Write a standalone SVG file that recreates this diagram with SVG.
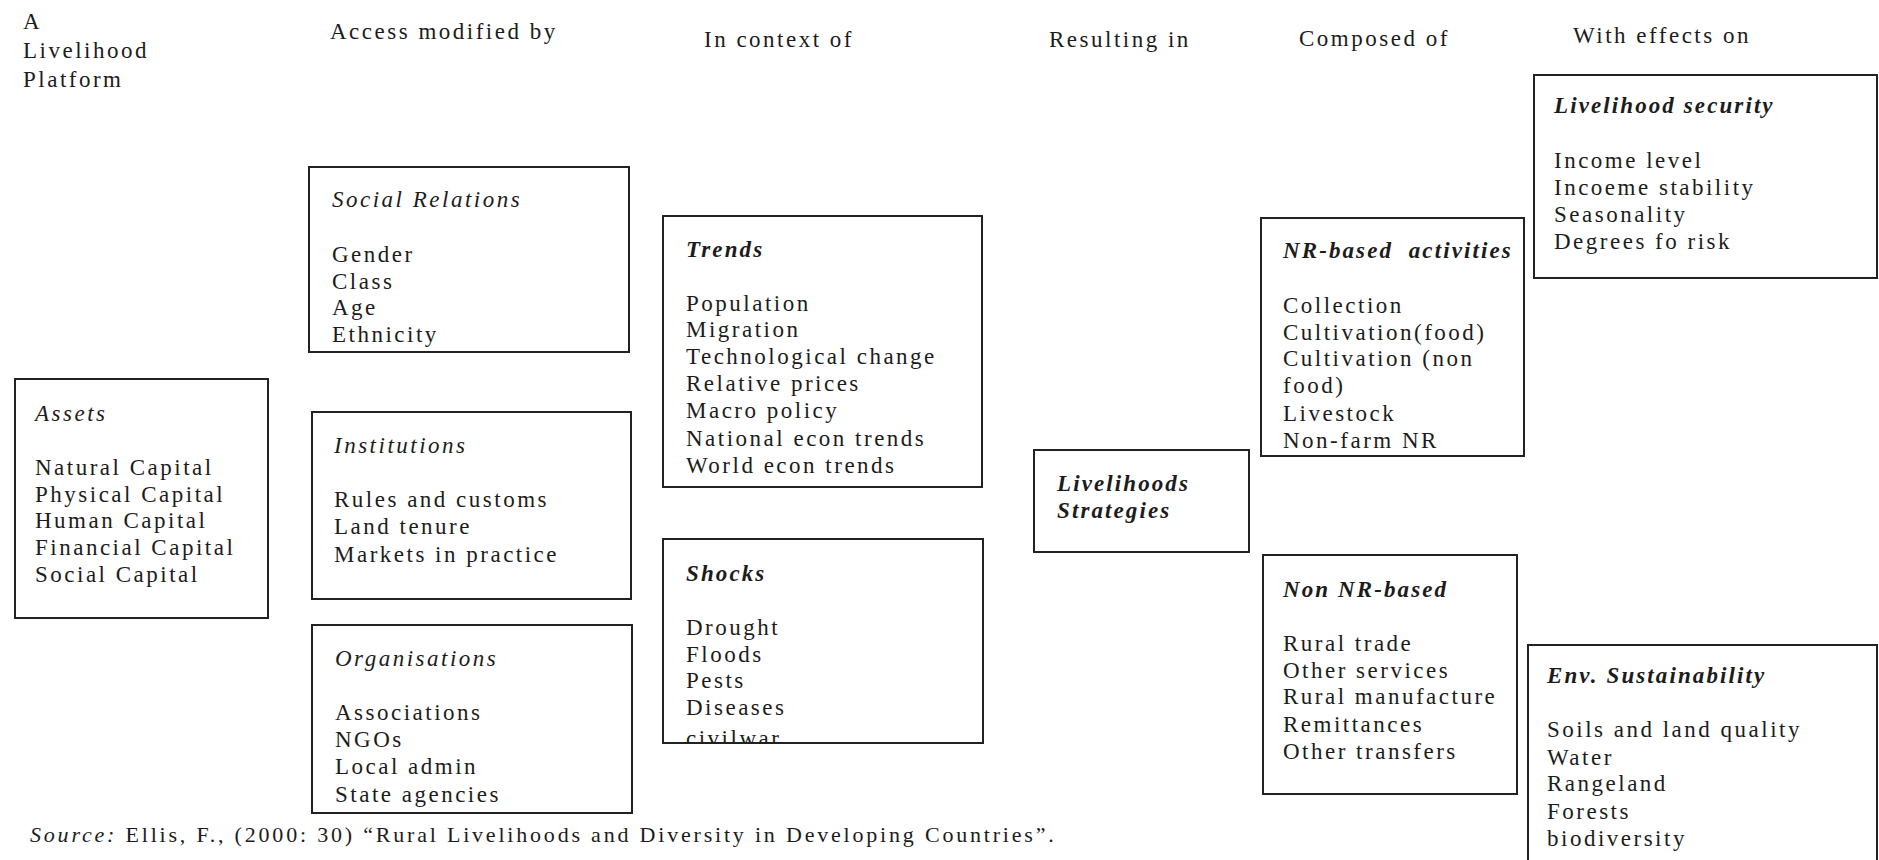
<svg xmlns="http://www.w3.org/2000/svg" width="1879" height="860" viewBox="0 0 1879 860">
<style>
  text { font-family: "Liberation Serif", "Times New Roman", serif; font-size: 23px; letter-spacing: 2.5px; fill: #1c1c1c; white-space: pre; }
  .t { font-style: italic; }
  .tb { font-style: italic; font-weight: bold; letter-spacing: 2.1px; }
  .box { fill: #fff; stroke: #222; stroke-width: 2; }
  .src { font-size: 22px; letter-spacing: 2.8px; }
</style>
<defs>
  <clipPath id="shockClip"><rect x="663" y="539" width="320" height="204"/></clipPath>
</defs>
<rect width="1879" height="860" fill="#fff"/>

<g id="headers">
  <text x="23" y="29">A</text>
  <text x="23" y="58">Livelihood</text>
  <text x="23" y="87">Platform</text>
  <text x="330" y="39">Access modified by</text>
  <text x="704" y="47">In context of</text>
  <text x="1049" y="47">Resulting in</text>
  <text x="1299" y="46">Composed of</text>
  <text x="1573" y="43">With effects on</text>
</g>

<g id="connectors"/>

<g id="assets">
  <rect class="box" x="15" y="379" width="253" height="239"/>
  <text class="t" x="35" y="421">Assets</text>
  <text x="35" y="475">Natural Capital</text>
  <text x="35" y="502">Physical Capital</text>
  <text x="35" y="528">Human Capital</text>
  <text x="35" y="555">Financial Capital</text>
  <text x="35" y="582">Social Capital</text>
</g>

<g id="social-relations">
  <rect class="box" x="309" y="167" width="320" height="185"/>
  <text class="t" x="332" y="207">Social Relations</text>
  <text x="332" y="262">Gender</text>
  <text x="332" y="289">Class</text>
  <text x="332" y="315">Age</text>
  <text x="332" y="342">Ethnicity</text>
</g>

<g id="institutions">
  <rect class="box" x="312" y="412" width="319" height="187"/>
  <text class="t" x="334" y="453">Institutions</text>
  <text x="334" y="507">Rules and customs</text>
  <text x="334" y="534">Land tenure</text>
  <text x="334" y="562">Markets in practice</text>
</g>

<g id="organisations">
  <rect class="box" x="312" y="625" width="320" height="188"/>
  <text class="t" x="335" y="666">Organisations</text>
  <text x="335" y="720">Associations</text>
  <text x="335" y="747">NGOs</text>
  <text x="335" y="774">Local admin</text>
  <text x="335" y="802">State agencies</text>
</g>

<g id="trends">
  <rect class="box" x="663" y="216" width="319" height="271"/>
  <text class="tb" x="686" y="257">Trends</text>
  <text x="686" y="311">Population</text>
  <text x="686" y="337">Migration</text>
  <text x="686" y="364">Technological change</text>
  <text x="686" y="391">Relative prices</text>
  <text x="686" y="418">Macro policy</text>
  <text x="686" y="446">National econ trends</text>
  <text x="686" y="473">World econ trends</text>
</g>

<g id="shocks">
  <rect class="box" x="663" y="539" width="320" height="204"/>
  <text class="tb" x="686" y="581">Shocks</text>
  <text x="686" y="635">Drought</text>
  <text x="686" y="662">Floods</text>
  <text x="686" y="688">Pests</text>
  <text x="686" y="715">Diseases</text>
  <text x="686" y="746" clip-path="url(#shockClip)">civilwar</text>
</g>

<g id="livelihood-strategies">
  <rect class="box" x="1034" y="450" width="215" height="102"/>
  <text class="tb" x="1057" y="491">Livelihoods</text>
  <text class="tb" x="1057" y="518">Strategies</text>
</g>

<g id="nr-based">
  <rect class="box" x="1261" y="218" width="263" height="238"/>
  <text class="tb" x="1283" y="258">NR-based  activities</text>
  <text x="1283" y="313">Collection</text>
  <text x="1283" y="340">Cultivation(food)</text>
  <text x="1283" y="366">Cultivation (non</text>
  <text x="1283" y="393">food)</text>
  <text x="1283" y="421">Livestock</text>
  <text x="1283" y="448">Non-farm NR</text>
</g>

<g id="non-nr-based">
  <rect class="box" x="1263" y="555" width="254" height="239"/>
  <text class="tb" x="1283" y="597">Non NR-based</text>
  <text x="1283" y="651">Rural trade</text>
  <text x="1283" y="678">Other services</text>
  <text x="1283" y="704">Rural manufacture</text>
  <text x="1283" y="732">Remittances</text>
  <text x="1283" y="759">Other transfers</text>
</g>

<g id="livelihood-security">
  <rect class="box" x="1534" y="75" width="343" height="203"/>
  <text class="tb" x="1554" y="113">Livelihood security</text>
  <text x="1554" y="168">Income level</text>
  <text x="1554" y="195">Incoeme stability</text>
  <text x="1554" y="222">Seasonality</text>
  <text x="1554" y="249">Degrees fo risk</text>
</g>

<g id="env-sustainability">
  <rect class="box" x="1528" y="645" width="349" height="240"/>
  <text class="tb" x="1547" y="683">Env. Sustainability</text>
  <text x="1547" y="737">Soils and land quality</text>
  <text x="1547" y="765">Water</text>
  <text x="1547" y="791">Rangeland</text>
  <text x="1547" y="819">Forests</text>
  <text x="1547" y="846">biodiversity</text>
</g>

<g id="source">
  <text class="src" x="30" y="842"><tspan font-style="italic">Source:</tspan> Ellis, F., (2000: 30) “Rural Livelihoods and Diversity in Developing Countries”.</text>
</g>
</svg>
